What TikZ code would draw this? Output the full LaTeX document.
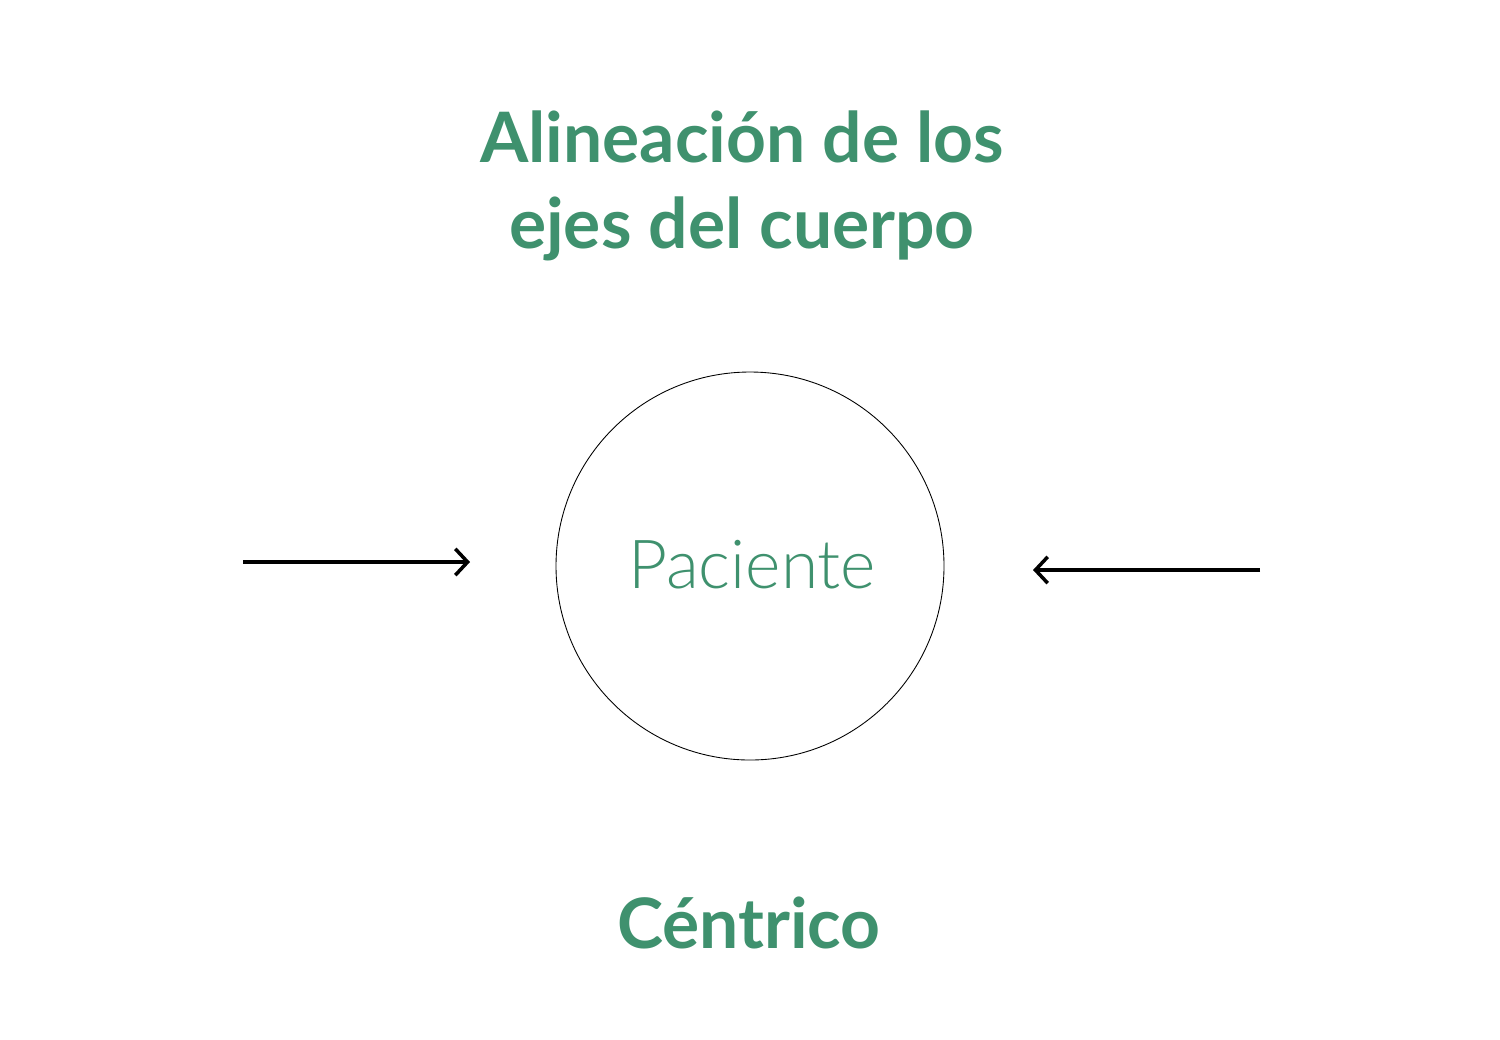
\documentclass[tikz,border=0pt]{standalone}
\usepackage{fontspec}
\setmainfont{Lato}
\newfontfamily\latolight{Lato Light}
\usepackage{tikz}
\usetikzlibrary{arrows.meta}
\usetikzlibrary{positioning}

\definecolor{titlegreen}{RGB}{63,145,110}

\begin{document}
\begin{tikzpicture}[x=0.02cm, y=-0.02cm,
    every node/.style={text=titlegreen, inner sep=0pt},
    heading/.style={font=\bfseries\fontsize{39.6}{48.4}\selectfont, align=center},
    push/.style={line width=2pt, -{Straight Barb[length=7pt, width=15pt, line width=2pt]}}]

        \useasboundingbox (0, 0) rectangle (1500, 1039);

        \node[heading, anchor=base] (title) at (742, 248) {Alineación de los\\ejes del cuerpo};

        \node[circle, draw=black, line width=0.5pt, minimum size=388*0.02cm] (patient) at (750, 566) {};
        \node[font=\latolight\fontsize{38.5}{46}\selectfont, anchor=base] (label) at (752, 588) {Paciente};

        \node[heading, anchor=base] (kind) at (749, 948) {Céntrico};

        \coordinate (leftstart) at (243, 562);
        \coordinate (leftend) at (470, 562);
        \coordinate (rightstart) at (1260, 570);
        \coordinate (rightend) at (1033, 570);

        \draw[push] (leftstart) -- (leftend);
        \draw[push] (rightstart) -- (rightend);

      \end{tikzpicture}
\end{document}
